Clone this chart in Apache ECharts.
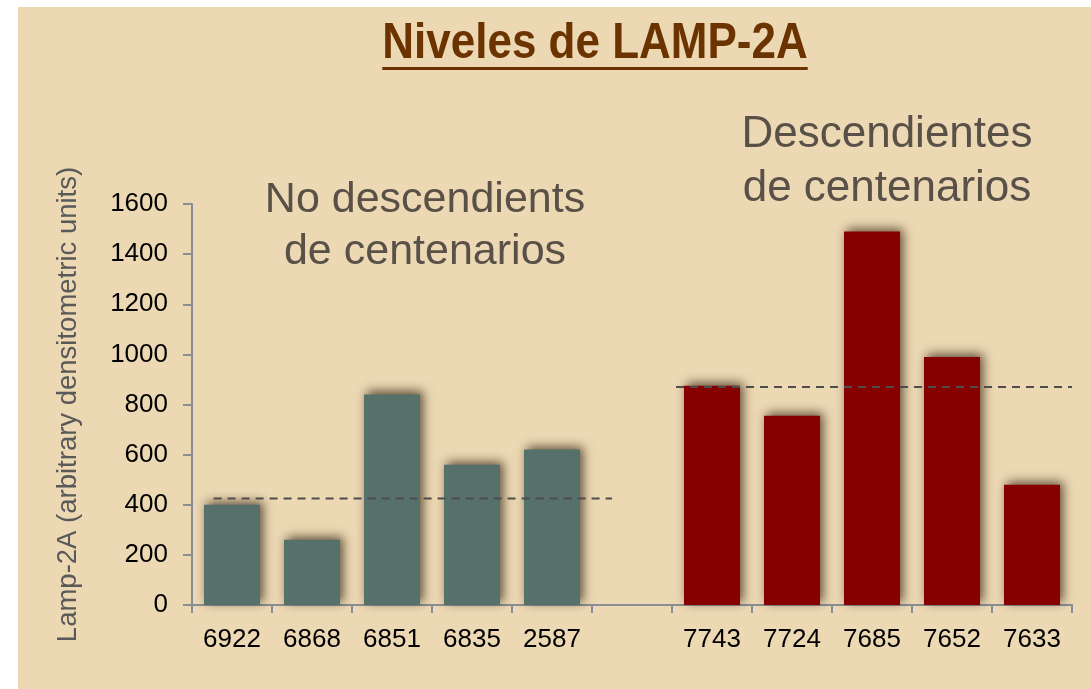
<!DOCTYPE html>
<html>
<head>
<meta charset="utf-8">
<title>Niveles de LAMP-2A</title>
<script src="https://cdn.jsdelivr.net/npm/echarts@6/dist/echarts.min.js"></script>
<style>
  html, body { margin: 0; padding: 0; background: #ffffff; }
  #chart { width: 1091px; height: 689px; }
</style>
</head>
<body>
<div id="chart"></div>
<script>
// Sample IDs along the x axis; the empty slot separates the two groups
const categories = ['6922', '6868', '6851', '6835', '2587', '', '7743', '7724', '7685', '7652', '7633'];
// LAMP-2A levels, non-descendants of centenarians
const noDescValues = [400, 260, 840, 560, 620];
// LAMP-2A levels, descendants of centenarians
const descValues = [875, 755, 1490, 990, 480];
// Dashed reference level for each group and its horizontal extent (in category units)
const noDescLevel = 425;
const noDescSpan = [0.27, 5.25];
const descLevel = 870;
const descSpan = [6.05, 11];
// Y axis scale
const yMin = 0, yMax = 1600, yStep = 200;

const FONT = "'Liberation Sans', Arial, Helvetica, sans-serif";
const titleText = 'Niveles de LAMP-2A';
const titleSize = 50;
const titleSquash = 0.88;

function textWidth(str, font) {
  const c = document.createElement('canvas').getContext('2d');
  c.font = font;
  return c.measureText(str).width;
}
const titleW = textWidth(titleText, 'bold ' + titleSize + 'px ' + FONT) * titleSquash;
const titleCx = 595;

const blanks = n => Array(n).fill('-');
const leftData = noDescValues.concat(blanks(categories.length - noDescValues.length));
const rightData = blanks(categories.length - descValues.length).concat(descValues);

const barShadow = {
  shadowBlur: 10,
  shadowColor: 'rgba(35, 20, 5, 0.7)',
  shadowOffsetX: 3,
  shadowOffsetY: -3
};

const chart = echarts.init(document.getElementById('chart'), null, { renderer: 'canvas' });
chart.setOption({
  animation: false,
  backgroundColor: '#ffffff',
  textStyle: { fontFamily: FONT },
  graphic: [
    {
      type: 'rect', z: -10, silent: true,
      shape: { x: 18, y: 7, width: 1091 - 18, height: 689 - 7 },
      style: { fill: '#ecd8b3' }
    },
    {
      type: 'text', z: 10,
      x: titleCx, y: 69, scaleX: titleSquash,
      style: {
        text: titleText, x: 0, y: 0,
        textAlign: 'center', textVerticalAlign: 'bottom',
        font: 'bold ' + titleSize + 'px ' + FONT,
        fill: '#6b3300'
      }
    },
    {
      type: 'rect', z: 10,
      shape: { x: titleCx - titleW / 2, y: 67, width: titleW, height: 3 },
      style: { fill: '#6b3300' }
    },
    {
      type: 'text', z: 10,
      style: {
        text: 'No descendients\nde centenarios', x: 425, y: 174,
        textAlign: 'center', textVerticalAlign: 'top',
        font: '43px ' + FONT, lineHeight: 52,
        fill: '#595048'
      }
    },
    {
      type: 'text', z: 10,
      style: {
        text: 'Descendientes\nde centenarios', x: 887, y: 108,
        textAlign: 'center', textVerticalAlign: 'top',
        font: '44px ' + FONT, lineHeight: 54,
        fill: '#595048'
      }
    }
  ],
  grid: { left: 192, right: 19, top: 204, bottom: 84, containLabel: false },
  xAxis: [
    {
      type: 'category',
      data: categories,
      boundaryGap: true,
      axisLine: { lineStyle: { color: '#8a8d94', width: 2 } },
      axisTick: { show: true, length: 8, alignWithLabel: false, interval: 0, lineStyle: { color: '#8a8d94', width: 2 } },
      axisLabel: { interval: 0, color: '#000000', fontSize: 26, margin: 22, fontFamily: FONT }
    },
    {
      type: 'value', min: 0, max: categories.length, show: false
    }
  ],
  yAxis: {
    type: 'value',
    min: yMin, max: yMax, interval: yStep,
    name: 'Lamp-2A (arbitrary densitometric units)',
    nameLocation: 'middle',
    nameGap: 110,
    nameTextStyle: { color: '#595959', fontSize: 27.5, fontFamily: FONT },
    axisLine: { show: true, lineStyle: { color: '#8a8d94', width: 2 } },
    axisTick: { show: true, length: 9, lineStyle: { color: '#8a8d94', width: 2 } },
    axisLabel: {
      color: '#000000', fontSize: 26, margin: 24, fontFamily: FONT,
      formatter: v => String(v)
    },
    splitLine: { show: false }
  },
  series: [
    {
      name: 'No descendientes', type: 'bar',
      data: leftData, barWidth: 56, barGap: '-100%',
      itemStyle: Object.assign({ color: '#56706a' }, barShadow)
    },
    {
      name: 'Descendientes', type: 'bar',
      data: rightData, barWidth: 56, barGap: '-100%',
      itemStyle: Object.assign({ color: '#870000' }, barShadow)
    },
    {
      type: 'line', xAxisIndex: 1, yAxisIndex: 0, z: 5,
      symbol: 'none', silent: true,
      data: [[noDescSpan[0], noDescLevel], [noDescSpan[1], noDescLevel]],
      lineStyle: { color: '#4d4d4d', width: 2, type: [8, 6] }
    },
    {
      type: 'line', xAxisIndex: 1, yAxisIndex: 0, z: 5,
      symbol: 'none', silent: true,
      data: [[descSpan[0], descLevel], [descSpan[1], descLevel]],
      lineStyle: { color: '#4d4d4d', width: 2, type: [8, 6] }
    }
  ]
});
</script>
</body>
</html>
